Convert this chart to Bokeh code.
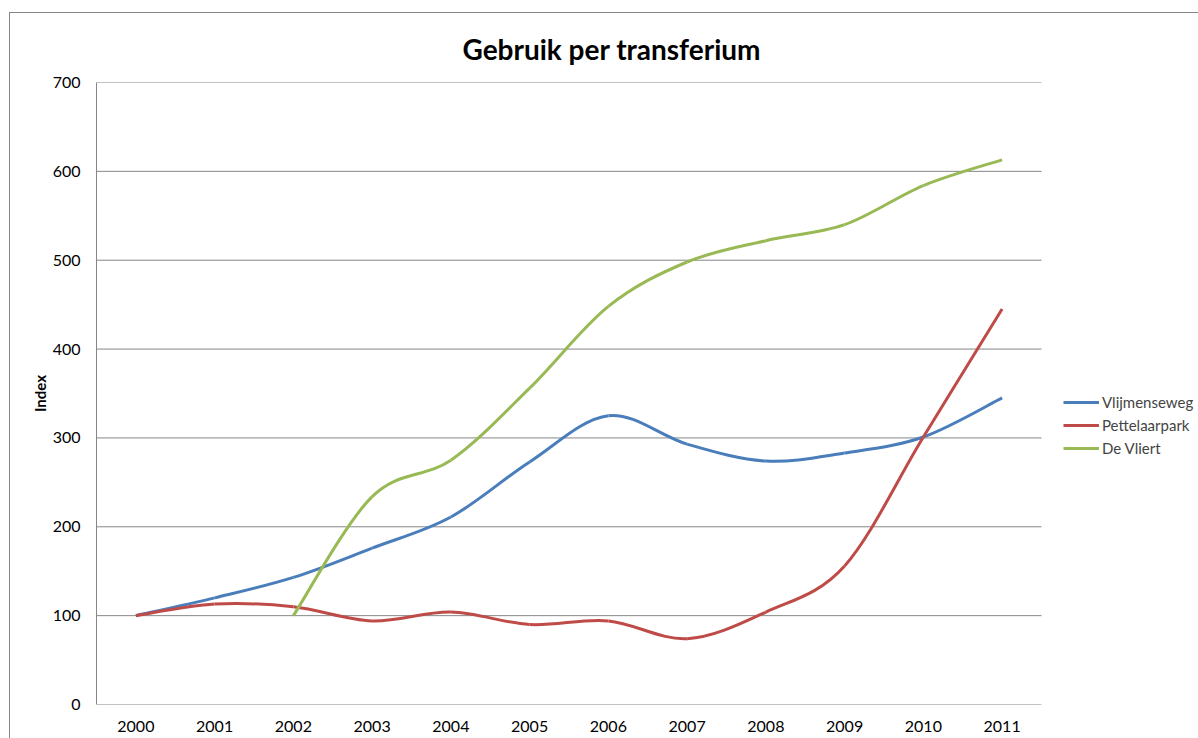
from bokeh.plotting import figure
from bokeh.models import (Legend, LegendItem, FixedTicker, Range1d, ColumnDataSource)
from bokeh.embed import file_html
from bokeh.resources import INLINE

years = ["2000", "2001", "2002", "2003", "2004", "2005", "2006", "2007", "2008", "2009", "2010", "2011"]
vlijmenseweg = [100, 120, 143, 176, 211, 273, 325, 293, 274, 283, 301, 345]
pettelaarpark = [100, 113, 110, 94, 104, 90, 94, 74, 104, 156, 301, 445]
de_vliert = [None, None, 100, 234, 275, 356, 448, 498, 522, 540, 584, 613]
series_names = ["Vlijmenseweg", "Pettelaarpark", "De Vliert"]
colors = ["#4A7EBB", "#BE4B48", "#98B954"]
y_ticks = [0, 100, 200, 300, 400, 500, 600, 700]

FONT = "Lato"
GRID = "#868686"

# plot area (categories) spans 945 px; the frame is extended to the right edge to host the legend
n = len(years)
x_start = -0.5
x_cat_end = n - 0.5
frame_w = 1189 - 86
x_end = x_start + (x_cat_end - x_start) * frame_w / 945.0

p = figure(width=1189, height=726, output_backend="svg", toolbar_location=None,
           x_range=Range1d(x_start, x_end), y_range=Range1d(0, 700),
           min_border_left=86, min_border_right=0, min_border_top=68, min_border_bottom=35)
p.margin = (12, 0, 0, 9)
p.styles = {"border-left": "1px solid #868686", "border-top": "1px solid #868686"}
p.outline_line_color = None
p.background_fill_color = "white"
p.border_fill_color = "white"

p.title.text = "Gebruik per transferium"
p.title.text_font = FONT
p.title.text_font_size = "28px"
p.title.text_font_style = "bold"
p.title.text_color = "black"
p.title.align = "left"
p.title.offset = 366
p.title.standoff = 33

p.xaxis.ticker = FixedTicker(ticks=list(range(n)))
p.xaxis.major_label_overrides = {i: y for i, y in enumerate(years)}
p.yaxis.ticker = FixedTicker(ticks=y_ticks)
for ax in (p.xaxis, p.yaxis):
    ax.axis_line_color = GRID
    ax.axis_line_width = 1
    ax.major_tick_line_color = None
    ax.minor_tick_line_color = None
    ax.major_label_text_font = FONT
    ax.major_label_text_font_size = "16px"
    ax.major_label_text_color = "black"
    ax.major_label_text_font_style = "normal"
p.xaxis.axis_line_color = None
p.xaxis.major_label_standoff = 10
p.yaxis.major_label_standoff = 10
p.yaxis.axis_label = "Index"
p.yaxis.axis_label_text_font = FONT
p.yaxis.axis_label_text_font_size = "15px"
p.yaxis.axis_label_text_font_style = "bold"
p.yaxis.axis_label_text_color = "black"
p.yaxis.axis_label_standoff = 1
p.xgrid.grid_line_color = None
p.ygrid.grid_line_color = None

# horizontal gridlines and category axis line, limited to the category span
p.segment(x0=[x_start] * len(y_ticks), x1=[x_cat_end] * len(y_ticks), y0=y_ticks, y1=y_ticks,
          line_color=GRID, line_width=1)


def smooth_segments(values):
    pts = [(i, v) for i, v in enumerate(values) if v is not None]
    x0, y0, x1, y1, cx0, cy0, cx1, cy1 = ([] for _ in range(8))
    m = len(pts)
    for i in range(m - 1):
        pa = pts[i - 1] if i > 0 else pts[i]
        pb = pts[i]
        pc = pts[i + 1]
        pd = pts[i + 2] if i + 2 < m else pts[i + 1]
        x0.append(pb[0]); y0.append(pb[1])
        x1.append(pc[0]); y1.append(pc[1])
        cx0.append(pb[0] + (pc[0] - pa[0]) / 6.0)
        cy0.append(pb[1] + (pc[1] - pa[1]) / 6.0)
        cx1.append(pc[0] - (pd[0] - pb[0]) / 6.0)
        cy1.append(pc[1] - (pd[1] - pb[1]) / 6.0)
    return ColumnDataSource(dict(x0=x0, y0=y0, x1=x1, y1=y1, cx0=cx0, cy0=cy0, cx1=cx1, cy1=cy1))


items = []
for name, vals, col in zip(series_names, [vlijmenseweg, pettelaarpark, de_vliert], colors):
    src = smooth_segments(vals)
    r = p.bezier(x0="x0", y0="y0", x1="x1", y1="y1", cx0="cx0", cy0="cy0", cx1="cx1", cy1="cy1",
                 source=src, line_color=col, line_width=3)
    items.append(LegendItem(label=name, renderers=[r]))

legend = Legend(items=items, location=(967, 246), padding=0, margin=0, spacing=3,
                glyph_width=36, glyph_height=20, label_standoff=3, label_height=20,
                label_text_font=FONT, label_text_font_size="15px",
                border_line_color=None, background_fill_alpha=0)
p.add_layout(legend, "center")

open("out.html", "w").write(file_html(p, INLINE))
